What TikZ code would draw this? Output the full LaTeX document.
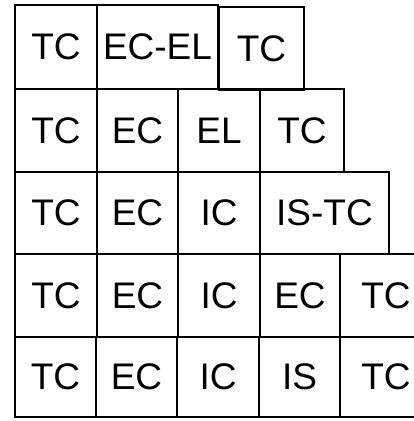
\documentclass[tikz,border=0pt]{standalone}
\usepackage{fontspec}
\setmainfont{Liberation Sans}
\begin{document}
\begin{tikzpicture}[x=1pt,y=-1pt,
  cell/.style={draw=black, line width=2.6pt, inner sep=0pt, anchor=center,
    font=\fontsize{37}{37}\selectfont, text=black}]
\fill[white] (0,0) rectangle (414,421);
\useasboundingbox (0,0) rectangle (414,421);
\clip (0,0) rectangle (414,421);
% row 1
\node[cell, minimum width=82pt, minimum height=84pt] (a1) at (56,47) {TC};
\node[cell, minimum width=121pt, minimum height=84pt] (a2) at (157.5,47) {EC-EL};
\node[cell, minimum width=85pt, minimum height=83pt] (a3) at (261.5,48.5) {TC};
% row 2
\node[cell, minimum width=82pt, minimum height=83pt] (b1) at (56,130.5) {TC};
\node[cell, minimum width=81pt, minimum height=83pt] (b2) at (137.5,130.5) {EC};
\node[cell, minimum width=82pt, minimum height=83pt] (b3) at (219,130.5) {EL};
\node[cell, minimum width=84pt, minimum height=83pt] (b4) at (302,130.5) {TC};
% row 3
\node[cell, minimum width=82pt, minimum height=82pt] (c1) at (56,213) {TC};
\node[cell, minimum width=81pt, minimum height=82pt] (c2) at (137.5,213) {EC};
\node[cell, minimum width=82pt, minimum height=82pt] (c3) at (219,213) {IC};
\node[cell, minimum width=129pt, minimum height=82pt] (c4) at (324.5,213) {IS-TC};
% row 4
\node[cell, minimum width=82pt, minimum height=83pt] (d1) at (56,295.5) {TC};
\node[cell, minimum width=81pt, minimum height=83pt] (d2) at (137.5,295.5) {EC};
\node[cell, minimum width=82pt, minimum height=83pt] (d3) at (219,295.5) {IC};
\node[cell, minimum width=80pt, minimum height=83pt] (d4) at (300,295.5) {EC};
\node[cell, minimum width=92pt, minimum height=83pt] (d5) at (386,295.5) {TC};
% row 5
\node[cell, minimum width=81pt, minimum height=80pt] (e1) at (55.5,377) {TC};
\node[cell, minimum width=81pt, minimum height=80pt] (e2) at (136.5,377) {EC};
\node[cell, minimum width=82pt, minimum height=80pt] (e3) at (218,377) {IC};
\node[cell, minimum width=81pt, minimum height=80pt] (e4) at (299.5,377) {IS};
\node[cell, minimum width=92pt, minimum height=80pt] (e5) at (386,377) {TC};
\end{tikzpicture}
\end{document}
